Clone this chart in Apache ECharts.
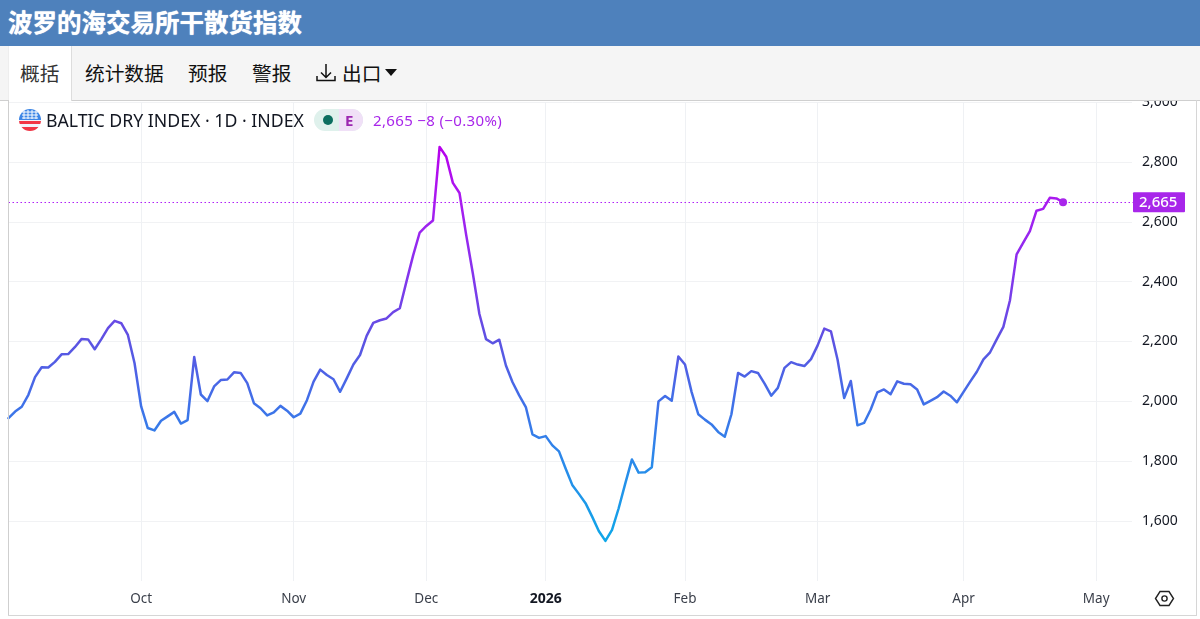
<!DOCTYPE html>
<html><head><meta charset="utf-8">
<script src="https://cdn.jsdelivr.net/npm/echarts@6/dist/echarts.min.js"></script>
<style>
html,body{margin:0;padding:0;background:#fff;width:1200px;height:619px;overflow:hidden}
#chart{position:absolute;left:0;top:0;width:1200px;height:619px}
.ui{position:absolute;z-index:5;white-space:nowrap}
#head{left:0;top:0;width:1200px;height:46px;background:#4e81bc;color:#fff;font:700 24.5px/44px "Noto Sans CJK SC",sans-serif;text-indent:8px;text-shadow:0 0 1px #fff}
#bar{left:0;top:46px;width:1200px;height:54px;background:#f5f5f5;border-bottom:1px solid #cfcfcf;box-sizing:content-box}
#tab{left:8px;top:46px;width:64px;height:55px;background:#fff;border-right:1px solid #ddd;border-left:1px solid #eee;box-sizing:border-box}
.t{top:46px;height:54px;font:400 19.7px/53px "Noto Sans CJK SC",sans-serif;color:#111}
#leg{left:46px;top:109px;font:400 17.7px/23px "Noto Sans",sans-serif;color:#131722}
#pill{left:314px;top:109px;width:49px;height:22px;border-radius:11px;overflow:hidden;background:#dff1ec}
#pill i{position:absolute;right:0;top:0;width:24px;height:22px;background:#f0e0f7}
#pill b{position:absolute;left:9px;top:6px;width:10px;height:10px;border-radius:5px;background:#0b6e5f}
#pill span{position:absolute;left:31px;top:0;font:700 15px/22px "Noto Sans",sans-serif;color:#9c27b0}
#val{left:373px;top:109px;font:400 15px/22px "Noto Sans",sans-serif;color:#a826ea;letter-spacing:.35px}
#lb{left:8px;top:100px;width:1px;height:515px;background:#cfcfcf}
#rb{left:1196px;top:100px;width:1px;height:515px;background:#d6d6d6}
#bb{left:8px;top:615px;width:1189px;height:1px;background:#d6d6d6}
</style></head><body>
<div id="chart"></div>
<div class="ui" id="head">波罗的海交易所干散货指数</div>
<div class="ui" id="bar"></div>
<div class="ui" id="tab"></div>
<div class="ui t" style="left:20px;color:#333">概括</div>
<div class="ui t" style="left:85px">统计数据</div>
<div class="ui t" style="left:188px">预报</div>
<div class="ui t" style="left:252px">警报</div>
<div class="ui t" style="left:342px">出口</div>
<svg class="ui" style="left:314px;top:61px" width="24" height="24" viewBox="0 0 24 24" fill="none" stroke="#111" stroke-width="1.5"><path d="M12 3v13M7 11.5l5 5 5-5M3 15v4.5h18V15"/></svg>
<svg class="ui" style="left:384px;top:68px" width="14" height="10"><path d="M1 1h12L7 8z" fill="#111"/></svg>
<svg class="ui" style="left:19px;top:109px" width="22" height="22" viewBox="0 0 22 22"><defs><clipPath id="c"><circle cx="11" cy="11" r="11"/></clipPath></defs><g clip-path="url(#c)"><rect width="22" height="22" fill="#f0f3fa"/><rect y="12" width="22" height="3" fill="#f23645"/><rect y="18" width="22" height="4" fill="#f23645"/><rect width="22" height="11" fill="#3d86e6"/><path d="M3 3h16M3 6h16M3 9h16M5 1v9M9 1v9M13 1v9M17 1v9" stroke="#fff" stroke-width="1"/></g></svg>
<div class="ui" id="leg">BALTIC DRY INDEX · 1D · INDEX</div>
<div class="ui" id="pill"><i></i><b></b><span>E</span></div>
<div class="ui" id="val">2,665 −8 (−0.30%)</div>
<div class="ui" id="lb"></div><div class="ui" id="rb"></div><div class="ui" id="bb"></div>
<svg class="ui" style="left:1154px;top:588px" width="21" height="21" viewBox="0 0 21 21" fill="none" stroke="#222" stroke-width="1.4"><path d="M6 3.5h9l4.5 7-4.5 7H6l-4.5-7z"/><circle cx="10.5" cy="10.5" r="2.6"/></svg>
<script>
const monthNames = ['Sep','Oct','Nov','Dec','2026','Feb','Mar','Apr','May'];
const monthDays  = [20,23,20,18,21,20,22,20,6];
const yTicks = [1400,1600,1800,2000,2200,2400,2600,2800,3000];
const lastValue = 2665;
const values = [
1944,1966,1982,2022,2081,2114,2113,2132,2157,2158,2181,2208,2207,2174,2208,2245,2269,2261,2222,2128,
1983,1911,1903,1935,1950,1965,1926,1937,2148,2023,2001,2050,2071,2073,2097,2095,2061,1994,1977,1953,1963,1985,1969,
1947,1959,2004,2066,2106,2088,2074,2032,2077,2123,2155,2219,2262,2271,2277,2298,2311,2400,2487,
2564,2586,2604,2850,2817,2730,2696,2557,2429,2292,2208,2194,2206,2120,2064,2020,1981,1890,1878,
1884,1853,1833,1776,1721,1691,1660,1615,1567,1534,1571,1643,1726,1806,1762,1763,1780,2000,2018,2002,2150,
2123,2031,1957,1939,1923,1898,1882,1957,2095,2083,2101,2095,2059,2019,2045,2112,2131,2123,2118,
2141,2187,2243,2234,2140,2011,2068,1920,1928,1973,2030,2040,2024,2067,2059,2057,2040,1990,2002,2014,2033,2019,
1997,2032,2066,2099,2140,2164,2207,2249,2338,2491,2530,2569,2637,2643,2680,2678,2665];

const categories = [], monthStart = new Set();
monthNames.forEach((m,k)=>{ for(let d=0;d<monthDays[k];d++){ if(d===0&&k>0) monthStart.add(categories.length); categories.push(d===0&&k>0?m:m+'-'+d); } });
categories.push('end');

const chart = echarts.init(document.getElementById('chart'),null,{renderer:'canvas'});
const font = '"Noto Sans",sans-serif', purple='#a826ea';
const data = values.map((v,i)=> i===values.length-1
  ? {value:v,symbol:'circle',symbolSize:8,itemStyle:{color:purple,opacity:1}} : {value:v,symbol:'none'});
chart.setOption({
  animation:false,
  grid:{left:8.5,top:102,width:1127.5,height:479,containLabel:false},
  graphic:[{type:'rect',z:1,silent:true,shape:{x:1132,y:95,width:8,height:492},style:{fill:'#fff'}}],
  xAxis:{type:'category',boundaryGap:false,data:categories,
    axisLine:{show:false},axisTick:{show:false},
    splitLine:{show:true,interval:i=>monthStart.has(i),lineStyle:{color:'#eff1f4',width:1}},
    axisLabel:{interval:i=>monthStart.has(i),margin:11,fontFamily:font,fontSize:13.5,color:'#3a3f4a',
      formatter:v=>v==='2026'?'{b|2026}':v,rich:{b:{fontWeight:700,fontFamily:font,fontSize:14,color:'#131722'}}}},
  yAxis:{type:'value',position:'right',min:1400,max:3000,interval:200,
    axisLine:{show:false},axisTick:{show:false},
    splitLine:{showMinLine:false,lineStyle:{color:'#f1f2f4',width:1}},
    axisLabel:{margin:6,fontFamily:font,fontSize:14,color:'#131722',showMinLabel:false,
      formatter:v=>yTicks.includes(v)?v.toLocaleString('en-US'):''}},
  series:[{type:'line',data,symbol:'circle',symbolSize:7,showSymbol:true,showAllSymbol:true,smooth:false,z:3,
    lineStyle:{width:2.5,cap:'round',join:'round',color:new echarts.graphic.LinearGradient(0,0,0,1,[
      {offset:0,color:'#b800ec'},{offset:.15,color:'#a81cf0'},{offset:.3,color:'#8a30ee'},{offset:.49,color:'#5d52e2'},{offset:.646,color:'#4070e8'},{offset:.8,color:'#2a8aea'},{offset:1,color:'#0ea8e8'}])},
    markLine:{silent:true,symbol:'none',animation:false,
      label:{position:'end',distance:0,offset:[-3,0],formatter:()=>lastValue.toLocaleString('en-US'),
        backgroundColor:purple,color:'#fff',fontFamily:font,fontSize:15,fontWeight:500,
        width:40,align:'left',padding:[2,6,3,6],borderRadius:1},
      data:[{yAxis:lastValue,lineStyle:{type:[1.5,2.5],color:'#b020f8',width:1.2,opacity:1}}]}}]
});
</script></body></html>
